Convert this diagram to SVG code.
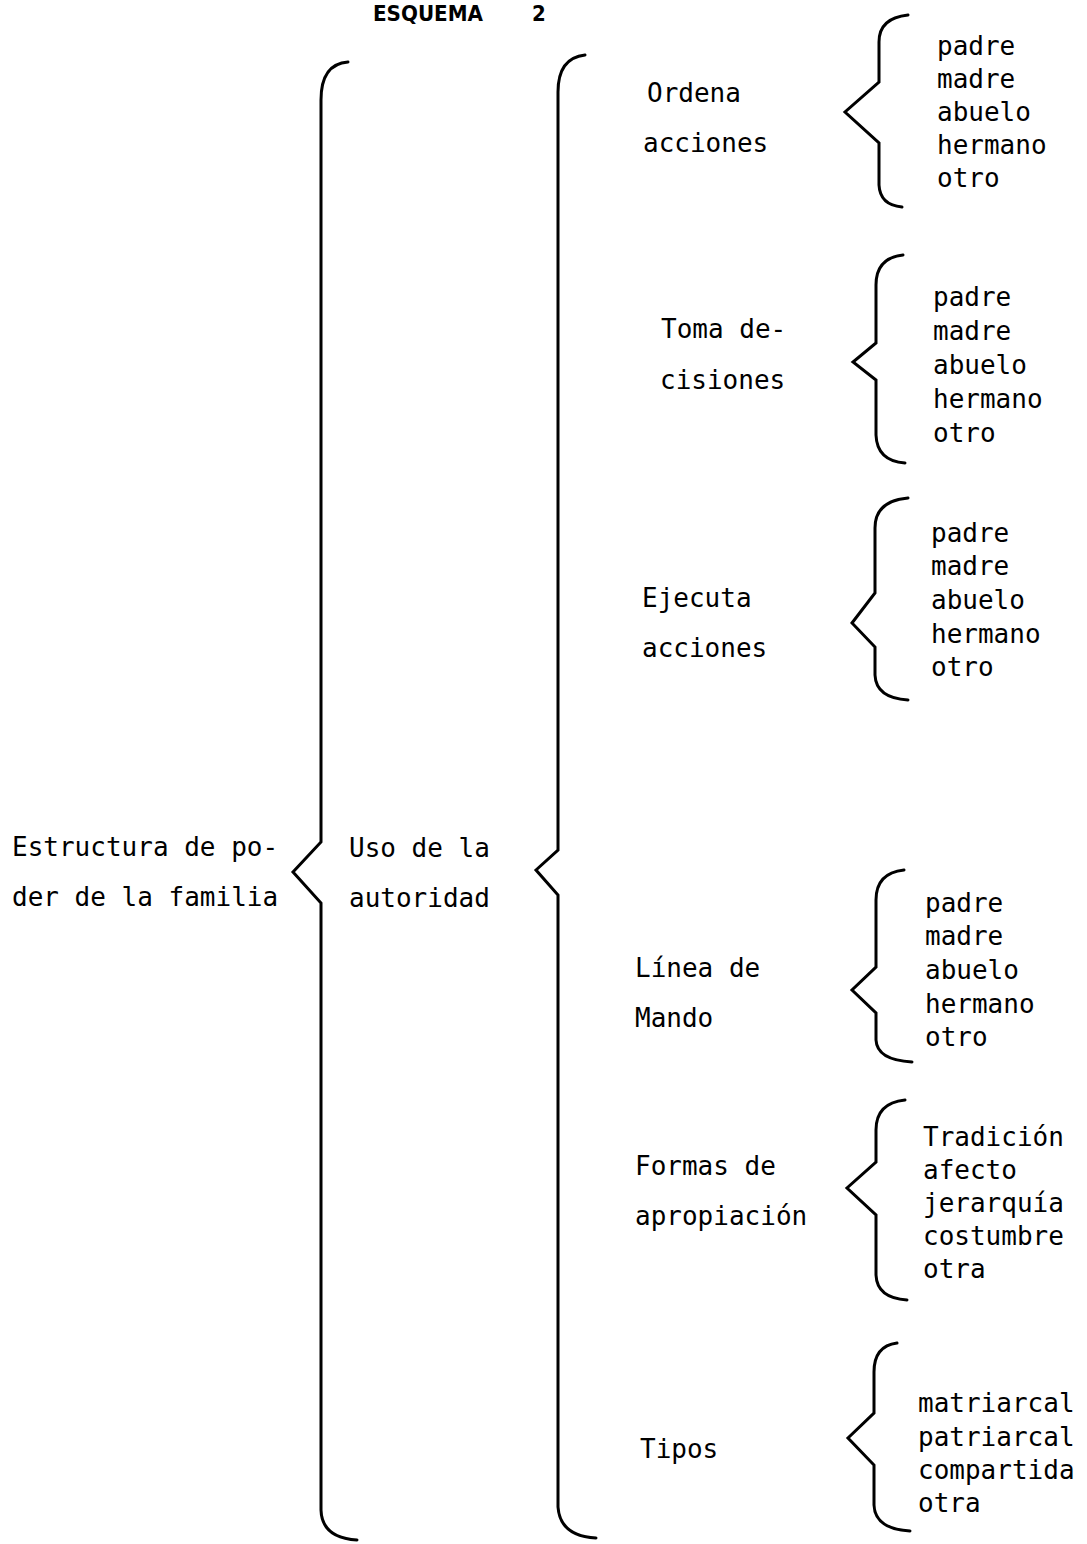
<svg xmlns="http://www.w3.org/2000/svg" width="1087" height="1544" viewBox="0 0 1087 1544">
<style>
.t{font-family:"DejaVu Sans Mono","Liberation Mono",monospace;font-size:26px;fill:#000}
.h{font-family:"DejaVu Sans Condensed","DejaVu Sans","Liberation Sans",sans-serif;font-size:22px;font-weight:bold;fill:#000}
.b{fill:none;stroke:#000;stroke-width:3;stroke-linejoin:miter;stroke-linecap:round}
</style>
<rect width="1087" height="1544" fill="#fff"/>
<g id="title"><text class="h" x="373" y="21" textLength="110" lengthAdjust="spacingAndGlyphs">ESQUEMA</text><text class="h" x="532" y="21">2</text></g>
<g id="connectors">
<path class="b" d="M348 62 Q321 64 321 100 L321 842 L293 872 L321 903 L321 1510 Q322 1538 357 1540"/>
<path class="b" d="M585 55 Q558 58 558 92 L558 850 L536 870 L558 895 L558 1507 Q560 1536 596 1538"/>
<path class="b" d="M908 15 Q879 18 879 42 L879 82 L845 112 L879 143 L879 185 Q880 205 902 207"/>
<path class="b" d="M903 255 Q876 258 876 285 L876 343 L853 362 L876 380 L876 435 Q877 461 905 463"/>
<path class="b" d="M908 498 Q875 501 875 528 L875 593 L852 623 L875 647 L875 675 Q876 698 908 700"/>
<path class="b" d="M904 870 Q876 873 876 900 L876 967 L852 990 L876 1013 L876 1040 Q877 1060 912 1062"/>
<path class="b" d="M905 1100 Q876 1103 876 1130 L876 1162 L847 1188 L876 1215 L876 1275 Q877 1298 907 1300"/>
<path class="b" d="M897 1343 Q874 1346 874 1372 L874 1413 L848 1438 L874 1465 L874 1505 Q875 1529 910 1531"/>
</g>
<g id="root"><text class="t" x="12" y="856">Estructura de po-</text><text class="t" x="12" y="906">der de la familia</text></g>
<g id="uso"><text class="t" x="349" y="857">Uso de la</text><text class="t" x="349" y="907">autoridad</text></g>
<g id="ordena"><text class="t" x="647" y="102">Ordena</text><text class="t" x="643" y="152">acciones</text></g>
<g id="ordena-list"><text class="t" x="937" y="55">padre</text><text class="t" x="937" y="88">madre</text><text class="t" x="937" y="121">abuelo</text><text class="t" x="937" y="154">hermano</text><text class="t" x="937" y="187">otro</text></g>
<g id="toma"><text class="t" x="661" y="338">Toma de-</text><text class="t" x="660" y="389">cisiones</text></g>
<g id="toma-list"><text class="t" x="933" y="306">padre</text><text class="t" x="933" y="340">madre</text><text class="t" x="933" y="374">abuelo</text><text class="t" x="933" y="408">hermano</text><text class="t" x="933" y="442">otro</text></g>
<g id="ejecuta"><text class="t" x="642" y="607">Ejecuta</text><text class="t" x="642" y="657">acciones</text></g>
<g id="ejecuta-list"><text class="t" x="931" y="542">padre</text><text class="t" x="931" y="575">madre</text><text class="t" x="931" y="609">abuelo</text><text class="t" x="931" y="643">hermano</text><text class="t" x="931" y="676">otro</text></g>
<g id="linea"><text class="t" x="635" y="977">Línea de</text><text class="t" x="635" y="1027">Mando</text></g>
<g id="linea-list"><text class="t" x="925" y="912">padre</text><text class="t" x="925" y="945">madre</text><text class="t" x="925" y="979">abuelo</text><text class="t" x="925" y="1013">hermano</text><text class="t" x="925" y="1046">otro</text></g>
<g id="formas"><text class="t" x="635" y="1175">Formas de</text><text class="t" x="635" y="1225">apropiación</text></g>
<g id="formas-list"><text class="t" x="923" y="1146">Tradición</text><text class="t" x="923" y="1179">afecto</text><text class="t" x="923" y="1212">jerarquía</text><text class="t" x="923" y="1245">costumbre</text><text class="t" x="923" y="1278">otra</text></g>
<g id="tipos"><text class="t" x="640" y="1458">Tipos</text></g>
<g id="tipos-list"><text class="t" x="918" y="1412">matriarcal</text><text class="t" x="918" y="1446">patriarcal</text><text class="t" x="918" y="1479">compartida</text><text class="t" x="918" y="1512">otra</text></g>
</svg>
